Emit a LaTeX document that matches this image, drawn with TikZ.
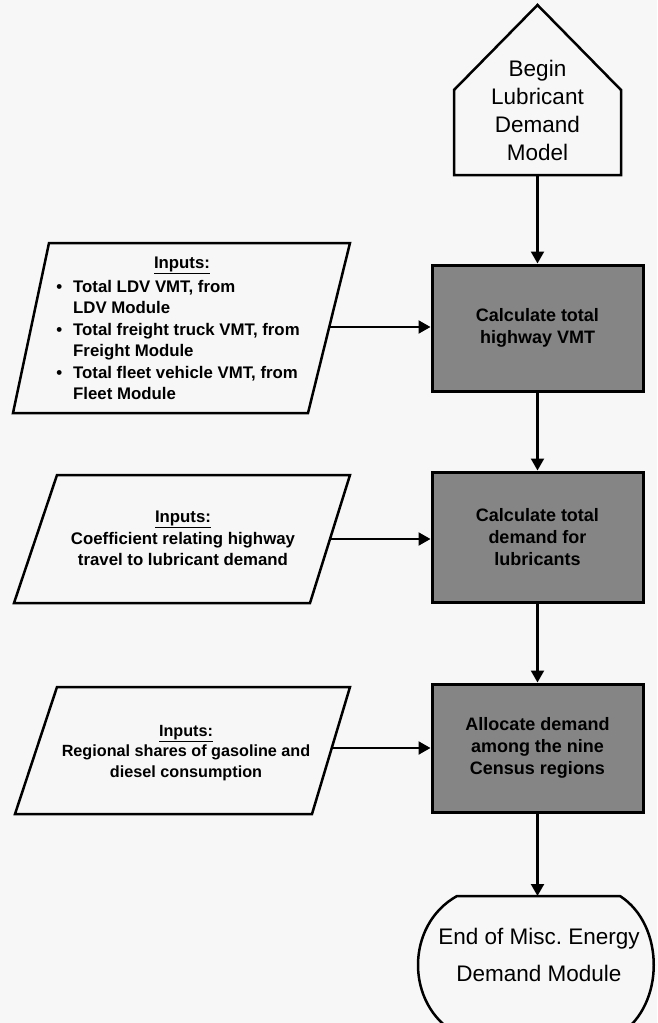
\documentclass[tikz,border=0pt]{standalone}
\usepackage{fontspec}
\setmainfont{Liberation Sans}
\usetikzlibrary{arrows.meta}
\definecolor{bg}{rgb}{0.97,0.97,0.97}
\definecolor{boxgray}{rgb}{0.52,0.52,0.52}
\begin{document}
\begin{tikzpicture}[x=1pt,y=-1pt,
  shapeline/.style={draw=black, line width=2.5pt, line join=miter},
  procbox/.style={draw=black, line width=3pt, fill=boxgray, minimum width=211pt,
    inner sep=0pt, align=center, font=\fontsize{18}{22}\selectfont\bfseries},
  inptext/.style={inner sep=0pt, font=\fontsize{16.8}{21.5}\selectfont\bfseries},
  bigtext/.style={inner sep=0pt, align=center, font=\fontsize{22.5}{28}\selectfont},
  endtext/.style={inner sep=0pt, align=center, font=\fontsize{22.5}{37}\selectfont},
  flow/.style={draw=black, line width=2.2pt, -{Triangle[length=12pt,width=13pt]}}]
\fill[bg] (0,0) rectangle (657,1023);
\useasboundingbox (0,0) rectangle (657,1023);

% Begin pentagon
\draw[shapeline] (537.5,5) -- (621,90) -- (621,175) -- (454,175) -- (454,90) -- cycle;
\node[bigtext] (begin) at (537.5,110) {Begin\\Lubricant\\Demand\\Model};
\coordinate (beginbot) at (537.5,175);

% Process boxes
\node[procbox, minimum height=126pt] (b1) at (537.5,328) {Calculate total\\highway VMT};
\node[procbox, minimum height=130pt] (b2) at (537.5,537) {Calculate total\\demand for\\lubricants};
\node[procbox, minimum height=128pt] (b3) at (537.5,748) {Allocate demand\\among the nine\\Census regions};

% End terminator
\draw[shapeline] (457,896) -- (620,896) .. controls (665,925) and (665,1005) .. (620,1034)
  -- (457,1034) .. controls (405,1005) and (405,925) .. (457,896) -- cycle;
\node[endtext] (endt) at (539,955) {End of Misc.\ Energy\\Demand Module};
\coordinate (endtop) at (537.5,896);

% Input parallelograms
\draw[shapeline] (49,243) -- (350,243) -- (308,413) -- (13,413) -- cycle;
\node[inptext, anchor=base] (in1) at (182,268) {\underline{Inputs:}};
\node[inptext, anchor=north west, align=left] (l1) at (73,280)
  {\llap{•\hspace{11pt}}Total LDV VMT, from\\LDV Module\\
   \llap{•\hspace{11pt}}Total freight truck VMT, from\\Freight Module\\
   \llap{•\hspace{11pt}}Total fleet vehicle VMT, from\\Fleet Module};
\coordinate (p1r) at (329.2,327);

\draw[shapeline] (57,475) -- (350,475) -- (310,603) -- (14,603) -- cycle;
\node[inptext, anchor=north, align=center] (in2) at (183,511)
  {\underline{Inputs:}\\Coefficient relating highway\\travel to lubricant demand};
\coordinate (p2r) at (330,539);

\draw[shapeline] (57,687) -- (350,687) -- (312,814) -- (15,814) -- cycle;
\node[inptext, anchor=north, align=center, font=\fontsize{16.2}{20.5}\selectfont\bfseries] (in3) at (186,725)
  {\underline{Inputs:}\\Regional shares of gasoline and\\diesel consumption};
\coordinate (p3r) at (331.7,748);

% Connectors
\draw[flow] (beginbot) -- (b1.north);
\draw[flow] (b1.south) -- (b2.north);
\draw[flow] (b2.south) -- (b3.north);
\draw[flow] (b3.south) -- (endtop);
\draw[flow] (p1r) -- (p1r -| b1.west);
\draw[flow] (p2r) -- (p2r -| b2.west);
\draw[flow] (p3r) -- (p3r -| b3.west);
\end{tikzpicture}
\end{document}
